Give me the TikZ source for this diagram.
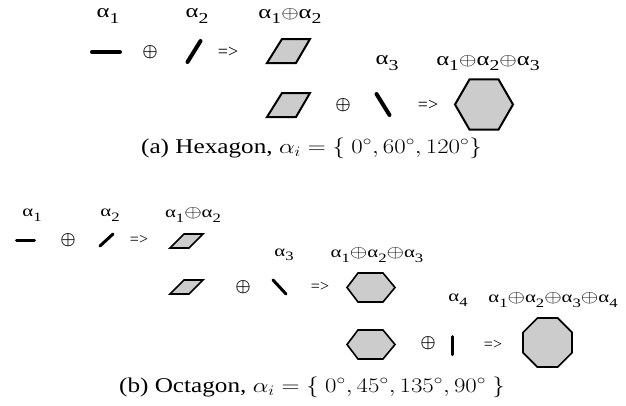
\documentclass[tikz,border=0pt]{standalone}
\usepackage[no-math]{fontspec}
\setmainfont{Liberation Serif}
\definecolor{cellgray}{RGB}{204,204,204}
\newcommand{\asub}[1]{α\raisebox{-0.28em}{\scalebox{0.8}{#1}}}
\newcommand{\osum}{${\oplus}$}
\newcommand{\wide}[2][1.3]{\scalebox{#1}[1]{#2}}
\begin{document}
\begin{tikzpicture}[x=1pt,y=-1pt,
  lbla/.style={inner sep=0pt,font=\fontsize{19}{19}\selectfont},
  lblb/.style={inner sep=0pt,font=\fontsize{16}{16}\selectfont},
  opa/.style={inner sep=0pt,font=\fontsize{19}{19}\selectfont\boldmath},
  opb/.style={inner sep=0pt,font=\fontsize{16}{16}\selectfont\boldmath},
  ima/.style={inner sep=0pt,font=\fontsize{18}{18}\selectfont},
  imb/.style={inner sep=0pt,font=\fontsize{16}{16}\selectfont},
  sega/.style={line width=4pt,line cap=round},
  segb/.style={line width=3pt,line cap=round},
  cell/.style={draw,fill=cellgray,line width=2pt},
  capt/.style={inner sep=0pt,font=\fontsize{21}{23}\selectfont}]
  \useasboundingbox (0,0) rectangle (626,405);

  % (a) hexagon: labels
  \node[lbla] (la1) at (108,16) {\wide{\asub{1}}};
  \node[lbla] (la2) at (197,16) {\wide{\asub{2}}};
  \node[lbla] (la12) at (290,16) {\wide{\asub{1}\osum\asub{2}}};
  \node[lbla] (la3) at (387,63) {\wide{\asub{3}}};
  \node[lbla] (la123) at (488,63) {\wide{\asub{1}\osum\asub{2}\osum\asub{3}}};

  % (a) first row
  \draw[sega] (92,52) -- (120,52);
  \node[opa] (pa1) at (150,52) {$\oplus$};
  \draw[sega] (187.5,62) -- (200.5,41);
  \node[ima] (ia1) at (228,52) {=>};
  \draw[cell] (267,63) -- (296,63) -- (310,39) -- (282,39) -- cycle;

  % (a) second row
  \draw[cell] (267,117) -- (296,117) -- (310,93) -- (282,93) -- cycle;
  \node[opa] (pa2) at (343,105) {$\oplus$};
  \draw[sega] (376.5,94) -- (389.5,115);
  \node[ima] (ia2) at (428,105) {=>};
  \draw[cell] (513,104.5) -- (498.5,79.4) -- (469.5,79.4) -- (455,104.5)
              -- (469.5,129.6) -- (498.5,129.6) -- cycle;

  \node[capt] (capa) at (311.5,148) {\wide[1.2]{(a) Hexagon, $\alpha_i = \{\ 0^\circ, 60^\circ, 120^\circ\}$}};

  % (b) octagon: labels
  \node[lblb] (lb1) at (32,215) {\wide{\asub{1}}};
  \node[lblb] (lb2) at (110,215) {\wide{\asub{2}}};
  \node[lblb] (lb12) at (193,215) {\wide{\asub{1}\osum\asub{2}}};
  \node[lblb] (lb3) at (284,255) {\wide{\asub{3}}};
  \node[lblb] (lb123) at (377,255) {\wide{\asub{1}\osum\asub{2}\osum\asub{3}}};
  \node[lblb] (lb4) at (458,300) {\wide{\asub{4}}};
  \node[lblb] (lb1234) at (553,300) {\wide{\asub{1}\osum\asub{2}\osum\asub{3}\osum\asub{4}}};

  % (b) first row
  \draw[segb] (16.5,240) -- (34.5,240);
  \node[opb] (pb1) at (68,240) {$\oplus$};
  \draw[segb] (100,246) -- (113,234);
  \node[imb] (ib1) at (139,240) {=>};
  \draw[cell,line width=1.6pt] (170,248) -- (189,248) -- (203,234) -- (184,234) -- cycle;

  % (b) second row
  \draw[cell,line width=1.6pt] (170,294) -- (189,294) -- (203,280) -- (184,280) -- cycle;
  \node[opb] (pb2) at (243,287) {$\oplus$};
  \draw[segb] (273,280) -- (286,294);
  \node[imb] (ib2) at (320,287) {=>};
  \draw[cell,line width=1.6pt] (347,287.5) -- (358,273) -- (383,273) -- (395,287.5)
              -- (383,302) -- (358,302) -- cycle;

  % (b) third row
  \draw[cell,line width=1.6pt] (347,344.5) -- (358,330) -- (383,330) -- (395,344.5)
              -- (383,359) -- (358,359) -- cycle;
  \node[opb] (pb3) at (428,343) {$\oplus$};
  \draw[segb] (452,336.5) -- (452,354.5);
  \node[imb] (ib3) at (493,345) {=>};
  \draw[cell,line width=1.6pt] (547.5,342.5) +(22.5:26.5) -- +(67.5:26.5) -- +(112.5:26.5)
              -- +(157.5:26.5) -- +(202.5:26.5) -- +(247.5:26.5) -- +(292.5:26.5)
              -- +(337.5:26.5) -- cycle;

  \node[capt] (capb) at (312,387) {\wide[1.2]{(b) Octagon, $\alpha_i = \{\ 0^\circ, 45^\circ, 135^\circ, 90^\circ\ \}$}};
\end{tikzpicture}
\end{document}
